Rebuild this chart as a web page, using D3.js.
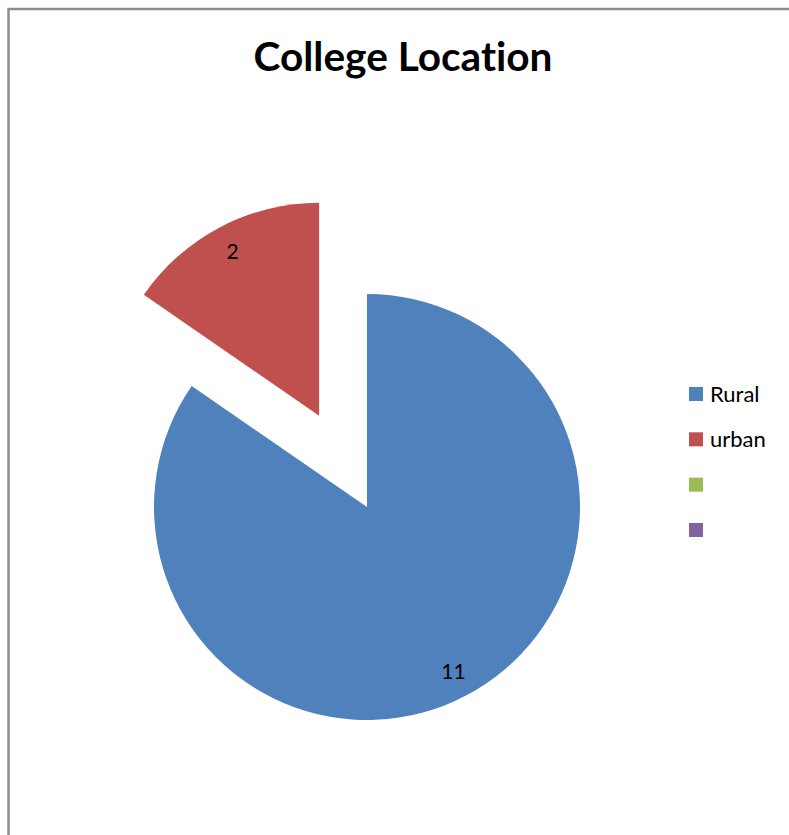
<!DOCTYPE html>
<html>
<head>
<meta charset="utf-8">
<script src="https://cdn.jsdelivr.net/npm/d3@7"></script>
<style>
  html, body { margin: 0; padding: 0; background: #fff; }
  svg { display: block; }
  text { font-variant-ligatures: none; font-feature-settings: "liga" 0, "clig" 0; }
</style>
</head>
<body>
<svg id="chart" width="789" height="835"></svg>
<script>
// College location counts
const categories = ["Rural", "urban", "", ""];
const values = [11, 2, 0, 0];
const colors = ["#4F81BD", "#C0504D", "#9BBB59", "#8064A2"];
const titleText = "College Location";

const svg = d3.select("#chart");
const W = 789, H = 835;
const font = "Lato, 'Open Sans', sans-serif";

// chart area frame (top and left edges visible)
svg.append("path")
  .attr("d", `M8.5,${H} L8.5,9 L${W},9`)
  .attr("fill", "none")
  .attr("stroke", "#8c8c8c")
  .attr("stroke-width", 2.5);

// title, fitted to its width
svg.append("text")
  .attr("x", 403)
  .attr("y", 71)
  .attr("text-anchor", "middle")
  .attr("font-family", font)
  .attr("font-weight", "bold")
  .attr("font-size", 40)
  .attr("fill", "#000")
  .attr("textLength", 299)
  .attr("lengthAdjust", "spacingAndGlyphs")
  .text(titleText);

// pie
const cx = 367, cy = 507, r = 213;
const explode = { 1: 103 };
const pie = d3.pie().sort(null).value(d => d)(values);
const arc = d3.arc().innerRadius(0).outerRadius(r);
const labelArc = d3.arc().innerRadius(186).outerRadius(186);

const g = svg.append("g").attr("transform", `translate(${cx},${cy})`);

const slices = g.selectAll("g.slice")
  .data(pie)
  .join("g")
  .attr("class", "slice")
  .attr("transform", (d, i) => {
    const off = explode[i] || 0;
    const a = (d.startAngle + d.endAngle) / 2;
    return `translate(${off * Math.sin(a)},${-off * Math.cos(a)})`;
  });

slices.append("path")
  .attr("d", arc)
  .attr("fill", (d, i) => colors[i]);

slices.filter(d => d.value > 0)
  .append("text")
  .attr("transform", d => `translate(${labelArc.centroid(d)})`)
  .attr("text-anchor", "middle")
  .attr("dy", "0.36em")
  .attr("font-family", font)
  .attr("font-size", 21)
  .attr("fill", "#000")
  .text(d => d.value);

// legend
const legendY = d3.scalePoint().domain(d3.range(categories.length)).range([394, 530]);
const legend = svg.append("g");
const items = legend.selectAll("g")
  .data(categories)
  .join("g")
  .attr("transform", (d, i) => `translate(689,${legendY(i)})`);
items.append("rect")
  .attr("x", 0).attr("y", -7)
  .attr("width", 14).attr("height", 14)
  .attr("fill", (d, i) => colors[i]);
items.append("text")
  .attr("x", 21)
  .attr("y", 0)
  .attr("dy", "0.36em")
  .attr("font-family", font)
  .attr("font-size", 22)
  .attr("fill", "#000")
  .text(d => d);
</script>
</body>
</html>
